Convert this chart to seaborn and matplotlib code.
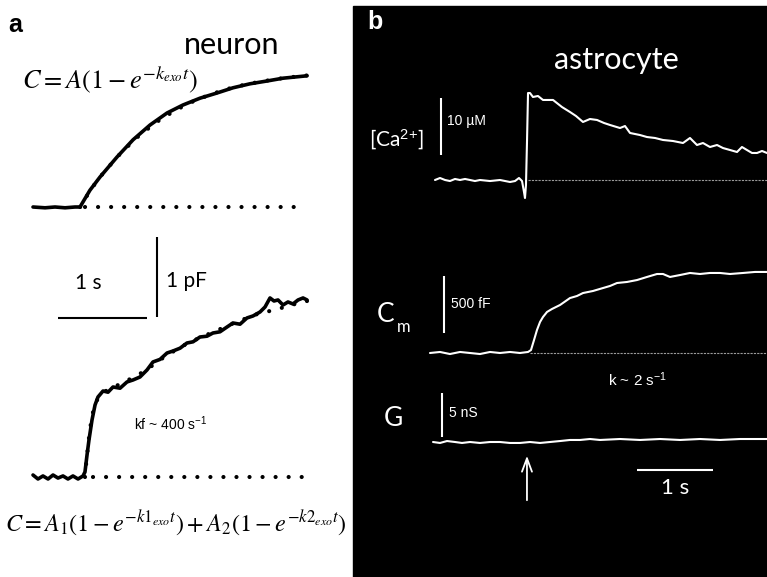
import numpy as np
import pandas as pd
import matplotlib
matplotlib.use("Agg")
import matplotlib.pyplot as plt
import seaborn as sns
from matplotlib.patches import Rectangle

sns.set_theme(style="white")
plt.rcParams['font.family'] = ['Lato', 'DejaVu Sans']
plt.rcParams['mathtext.fontset'] = 'custom'
plt.rcParams['mathtext.rm'] = 'Liberation Sans'
plt.rcParams['mathtext.it'] = 'Liberation Sans:italic'

# ---------------- data: panel a (neuron), time in s, capacitance in pF ----------------
neuron1_t = [0.000, 0.135, 0.247, 0.360, 0.472, 0.528, 0.640, 0.753, 0.944, 1.124, 1.315,
             1.506, 1.685, 1.876, 2.067, 2.247, 2.438, 2.629, 2.809, 3.079]
neuron1_c = [0.000, -0.010, 0.000, -0.010, 0.000, 0.000, 0.210, 0.375, 0.625, 0.840, 1.025,
             1.175, 1.275, 1.360, 1.425, 1.490, 1.540, 1.575, 1.610, 1.640]
fit1_t = [0.53, 0.65, 0.80, 1.00, 1.20, 1.40, 1.60, 1.80, 2.00, 2.20, 2.40, 2.60, 2.80, 3.00, 3.08]
fit1_c = [0.00, 0.22, 0.44, 0.69, 0.90, 1.07, 1.21, 1.32, 1.41, 1.48, 1.535, 1.575, 1.61, 1.635, 1.645]

neuron2_t = [0.000, 0.056, 0.112, 0.169, 0.225, 0.281, 0.337, 0.393, 0.449, 0.506, 0.562,
             0.584, 0.607, 0.629, 0.663, 0.697, 0.730, 0.787, 0.843, 0.899, 0.978, 1.056,
             1.124, 1.202, 1.281, 1.348, 1.427, 1.506, 1.573, 1.652, 1.730, 1.798, 1.876,
             1.955, 2.022, 2.101, 2.180, 2.247, 2.326, 2.404, 2.472, 2.551, 2.607, 2.663,
             2.708, 2.753, 2.809, 2.865, 2.921, 2.978, 3.034, 3.079]
neuron2_c = [0.025, -0.025, 0.013, -0.025, 0.025, -0.013, 0.013, -0.025, 0.013, -0.025, 0.013,
             0.063, 0.275, 0.463, 0.713, 0.900, 1.000, 1.075, 1.060, 1.125, 1.110, 1.188,
             1.213, 1.250, 1.338, 1.438, 1.470, 1.550, 1.575, 1.610, 1.675, 1.690, 1.750,
             1.760, 1.800, 1.815, 1.875, 1.925, 1.910, 1.988, 2.013, 2.063, 2.125, 2.238,
             2.200, 2.213, 2.150, 2.188, 2.163, 2.213, 2.238, 2.213]
fit2_t = [0.584, 0.600, 0.630, 0.660, 0.700, 0.750, 0.850, 1.000, 1.250, 1.500, 1.750,
          2.000, 2.250, 2.500, 2.750, 3.000, 3.080]
fit2_c = [0.000, 0.200, 0.500, 0.750, 0.920, 1.020, 1.100, 1.170, 1.320, 1.520, 1.680,
          1.800, 1.920, 2.030, 2.100, 2.180, 2.200]

# ---------------- data: panel b (astrocyte), time in s ----------------
ca_t = [0.000, 0.066, 0.132, 0.197, 0.263, 0.329, 0.395, 0.461, 0.526, 0.592, 0.724, 0.855,
        0.987, 1.053, 1.105, 1.145, 1.171, 1.184, 1.197, 1.211, 1.224, 1.250, 1.289, 1.355,
        1.421, 1.553, 1.671, 1.776, 1.855, 1.947, 2.039, 2.132, 2.224, 2.303, 2.434, 2.500,
        2.566, 2.697, 2.789, 2.895, 3.000, 3.132, 3.263, 3.355, 3.447, 3.526, 3.618, 3.711,
        3.789, 3.882, 3.974, 4.039, 4.105, 4.171, 4.237, 4.303, 4.368]
ca_uM = [0.00, 0.35, 0.00, -0.18, 0.18, 0.00, 0.18, 0.00, -0.18, 0.00, -0.18, 0.00,
         -0.35, -0.18, 0.35, -0.18, -2.10, -3.16, -0.88, 7.00, 15.26, 15.26, 14.56, 14.74,
         14.04, 14.04, 12.80, 11.93, 11.23, 10.18, 10.70, 10.53, 10.00, 9.65, 9.12, 9.47,
         8.25, 7.89, 7.54, 7.37, 7.02, 6.84, 6.49, 7.37, 6.14, 6.49, 5.79, 6.14,
         5.61, 5.26, 4.91, 5.79, 5.26, 4.74, 4.74, 5.09, 4.74]

cm_t = [-0.066, 0.066, 0.197, 0.329, 0.461, 0.592, 0.724, 0.855, 0.987, 1.118, 1.224, 1.263,
        1.303, 1.342, 1.382, 1.421, 1.474, 1.539, 1.645, 1.776, 1.868, 1.947, 2.079, 2.211,
        2.303, 2.395, 2.526, 2.658, 2.789, 2.921, 3.000, 3.092, 3.224, 3.355, 3.487, 3.618,
        3.750, 3.882, 4.053, 4.211, 4.368]
cm_fF = [0, 9, -9, 9, 0, -9, 9, 0, 9, 0, 9, 26,
         114, 202, 272, 316, 360, 386, 421, 482, 500, 526, 544, 570,
         588, 614, 623, 640, 667, 693, 693, 667, 684, 702, 693, 702,
         702, 693, 702, 711, 711]

g_t = [-0.026, 0.066, 0.158, 0.263, 0.355, 0.461, 0.592, 0.724, 0.855, 0.987, 1.118, 1.250,
       1.382, 1.513, 1.645, 1.776, 1.908, 2.039, 2.171, 2.434, 2.697, 2.961, 3.224, 3.487,
       3.750, 4.013, 4.368]
g_nS = [0.00, -0.11, 0.11, 0.00, -0.11, 0.00, -0.11, 0.00, 0.00, -0.11, -0.11, 0.00,
        -0.11, 0.00, 0.11, 0.23, 0.23, 0.34, 0.23, 0.34, 0.23, 0.34, 0.23, 0.34,
        0.23, 0.34, 0.34]

stim_time = 1.21   # arrow (s)

# ---------------- figure ----------------
W, H = 767, 577
fig = plt.figure(figsize=(W / 100, H / 100), dpi=100, facecolor='white')

overlay = fig.add_axes([0, 0, 1, 1])
overlay.set_xlim(0, W)
overlay.set_ylim(H, 0)
overlay.axis('off')
overlay.add_patch(Rectangle((353, 6), W - 353, H - 6, color='black', zorder=0))


def trace_axes(x0_px, base_px, px_per_x, px_per_y):
    ax = fig.add_axes([0, 0, 1, 1], facecolor='none')
    ax.set_xlim(-x0_px / px_per_x, (W - x0_px) / px_per_x)
    ax.set_ylim((base_px - H) / px_per_y, base_px / px_per_y)
    ax.axis('off')
    return ax


def dotted(ax, x, y, lw=3.0, spacing_px=13, color='black'):
    gap = spacing_px / (lw * 100 / 72)
    ax.plot(x, y, color=color, lw=lw, linestyle=(0, (0.01, gap)),
            dash_capstyle='round', solid_capstyle='round')


# panel a, top trace
axa1 = trace_axes(33, 207, 89, 80)
sns.lineplot(x=neuron1_t, y=neuron1_c, ax=axa1, color='black', lw=2.6, sort=False, estimator=None)
dotted(axa1, fit1_t, fit1_c)
dotted(axa1, [0.584, 3.056], [0, 0])
# scale bars 1 s / 1 pF
axa1.plot([0.281, 1.281], [-1.39, -1.39], color='black', lw=1.5, solid_capstyle='butt')
axa1.plot([1.393, 1.393], [-1.375, -0.375], color='black', lw=1.5, solid_capstyle='butt')

# panel a, bottom trace
axa2 = trace_axes(33, 477, 89, 80)
sns.lineplot(x=neuron2_t, y=neuron2_c, ax=axa2, color='black', lw=2.6, sort=False, estimator=None)
dotted(axa2, fit2_t, fit2_c)
dotted(axa2, [0.674, 3.03], [0, 0])

# panel b, Ca
axb1 = trace_axes(435, 180, 76, 5.7)
sns.lineplot(x=ca_t, y=ca_uM, ax=axb1, color='white', lw=1.5, sort=False, estimator=None)
axb1.plot([1.22, 4.37], [0, 0], color='#9a9a9a', lw=0.8, linestyle=(0, (2, 1)))
axb1.plot([0.079, 0.079], [4.39, 14.39], color='white', lw=1.5, solid_capstyle='butt')

# panel b, Cm
axb2 = trace_axes(435, 353, 76, 0.114)
sns.lineplot(x=cm_t, y=cm_fF, ax=axb2, color='white', lw=1.5, sort=False, estimator=None)
axb2.plot([1.25, 4.37], [0, 0], color='#9a9a9a', lw=0.8, linestyle=(0, (2, 1)))
axb2.plot([0.118, 0.118], [175, 675], color='white', lw=1.5, solid_capstyle='butt')

# panel b, G
axb3 = trace_axes(435, 442, 76, 8.8)
sns.lineplot(x=g_t, y=g_nS, ax=axb3, color='white', lw=1.5, sort=False, estimator=None)
axb3.plot([0.092, 0.092], [0.57, 5.57], color='white', lw=1.5, solid_capstyle='butt')
axb3.plot([2.658, 3.658], [-3.18, -3.18], color='white', lw=1.5, solid_capstyle='butt')
axb3.annotate('', xy=(stim_time, -1.25), xytext=(stim_time, -6.93),
              arrowprops=dict(arrowstyle='->,head_length=0.8,head_width=0.3', color='white', lw=1.3))

# ---------------- text ----------------
T = overlay.text
T(15, 25, 'a', fontsize=18, fontweight='bold', family='Liberation Sans', ha='center', va='center', color='black')
T(375, 22, 'b', fontsize=18, fontweight='bold', family='Liberation Sans', ha='center', va='center', color='white')
T(232, 45, 'neuron', fontsize=22, ha='center', va='center', color='black')
T(616, 60, 'astrocyte', fontsize=22, ha='center', va='center', color='white')

T(22, 80, r'$C = A(1-e^{-k_{exo}t})$', fontsize=19, math_fontfamily='stix', ha='left', va='center', color='black')
T(5, 523, r'$C = A_1(1-e^{-k1_{exo}t}) + A_2(1-e^{-k2_{exo}t})$', fontsize=17.4, math_fontfamily='stix',
  ha='left', va='center', color='black')
T(88, 283, '1 s', fontsize=15, ha='center', va='center', color='black')
T(166, 281, '1 pF', fontsize=15, ha='left', va='center', color='black')
T(134, 424, r'kf ~ 400 s$^{-1}$', fontsize=10, family='Liberation Sans', ha='left', va='center', color='black')

T(396, 140, r'[Ca$^{2{+}}$]', fontsize=15, ha='center', va='center', color='white')
T(447, 121, '10 µM', fontsize=10, family='Liberation Sans', ha='left', va='center', color='white')
T(386, 314, 'C', fontsize=19, ha='center', va='center', color='white')
T(397, 327, 'm', fontsize=12, ha='left', va='center', color='white')
T(451, 304, '500 fF', fontsize=10, family='Liberation Sans', ha='left', va='center', color='white')
T(608, 380, r'k ~ 2 s$^{-1}$', fontsize=11, family='Liberation Sans', ha='left', va='center', color='white')
T(393, 419, 'G', fontsize=19, ha='center', va='center', color='white')
T(449, 413, '5 nS', fontsize=10, family='Liberation Sans', ha='left', va='center', color='white')
T(675, 488, '1 s', fontsize=16, ha='center', va='center', color='white')

fig.savefig('out.png', dpi=100, facecolor='white')
